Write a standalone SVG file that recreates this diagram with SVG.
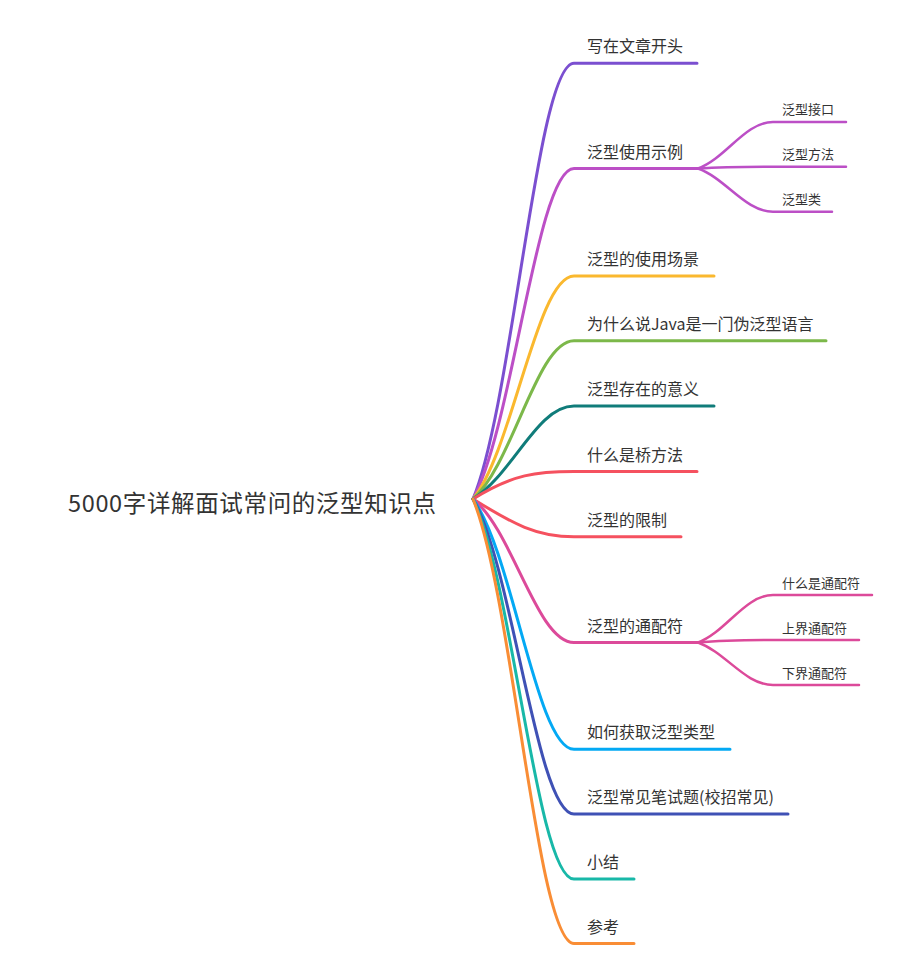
<svg xmlns="http://www.w3.org/2000/svg" width="900" height="975" viewBox="0 0 900 975">
<style>
.bg{fill:#ffffff}
.ln{fill:none;stroke-width:3;stroke-linecap:round}
.sl{fill:none;stroke-width:2.5;stroke-linecap:round}
text{font-family:"Noto Sans CJK SC","Noto Sans",sans-serif;fill:#333333}
.root{font-size:23.5px}
.main{font-size:16px}
.sub{font-size:13px}
</style>
<rect class="bg" x="0" y="0" width="900" height="975"/>
<g id="connectors">
<path class="ln" stroke="#7B4FD0" d="M473 499 C513 403.1 537 63.3 574 63.3 L697 63.3"/>
<path class="ln" stroke="#BC4FC6" d="M473 499 C513 426.3 537 168.5 574 168.5 L698 168.5"/>
<path class="ln" stroke="#FAB82E" d="M473 499 C513 449.9 537 276 574 276 L714 276"/>
<path class="ln" stroke="#7CB84A" d="M473 499 C513 464.2 537 340.8 574 340.8 L826 340.8"/>
<path class="ln" stroke="#107C7A" d="M473 499 C513 474 537 406 574 406 L714 406"/>
<path class="ln" stroke="#F5515F" d="M473 499 C513 474 537 471.5 574 471.5 L697 471.5"/>
<path class="ln" stroke="#F5515F" d="M473 499 C513 524 537 536.8 574 536.8 L681 536.8"/>
<path class="ln" stroke="#DC4A9A" d="M473 499 C513 530.6 537 642.5 574 642.5 L698 642.5"/>
<path class="ln" stroke="#03A9F4" d="M473 499 C513 554.1 537 749.3 574 749.3 L730 749.3"/>
<path class="ln" stroke="#3F51B5" d="M473 499 C513 568.3 537 814 574 814 L788 814"/>
<path class="ln" stroke="#18B8A8" d="M473 499 C513 582.6 537 879 574 879 L634 879"/>
<path class="ln" stroke="#F98D35" d="M473 499 C513 596.8 537 943.5 574 943.5 L634 943.5"/>
<path class="sl" stroke="#BC4FC6" d="M698 168.5 C726 158.3 745 122 773 122 L846 122"/>
<path class="sl" stroke="#BC4FC6" d="M698 168.5 C726 166.7 745 166.7 773 166.7 L846 166.7"/>
<path class="sl" stroke="#BC4FC6" d="M698 168.5 C726 178.5 745 211.7 773 211.7 L832 211.7"/>
<path class="sl" stroke="#DC4A9A" d="M698 642.5 C726 632.1 745 595 773 595 L872 595"/>
<path class="sl" stroke="#DC4A9A" d="M698 642.5 C726 640 745 640 773 640 L859 640"/>
<path class="sl" stroke="#DC4A9A" d="M698 642.5 C726 652.5 745 685 773 685 L859 685"/>
</g>
<g id="root"><text class="root" x="68" y="511.5" textLength="368" lengthAdjust="spacing">5000字详解面试常问的泛型知识点</text></g>
<g id="n1"><text class="main" x="587" y="52.3">写在文章开头</text></g>
<g id="n2"><text class="main" x="587" y="157.5">泛型使用示例</text></g>
<g id="n2a"><text class="sub" x="782" y="114">泛型接口</text></g>
<g id="n2b"><text class="sub" x="782" y="159">泛型方法</text></g>
<g id="n2c"><text class="sub" x="782" y="204">泛型类</text></g>
<g id="n3"><text class="main" x="587" y="265">泛型的使用场景</text></g>
<g id="n4"><text class="main" x="587" y="329.8">为什么说Java是一门伪泛型语言</text></g>
<g id="n5"><text class="main" x="587" y="395">泛型存在的意义</text></g>
<g id="n6"><text class="main" x="587" y="460.5">什么是桥方法</text></g>
<g id="n7"><text class="main" x="587" y="525.8">泛型的限制</text></g>
<g id="n8"><text class="main" x="587" y="631.5">泛型的通配符</text></g>
<g id="n8a"><text class="sub" x="782" y="587.5">什么是通配符</text></g>
<g id="n8b"><text class="sub" x="782" y="632.5">上界通配符</text></g>
<g id="n8c"><text class="sub" x="782" y="677.5">下界通配符</text></g>
<g id="n9"><text class="main" x="587" y="738.3">如何获取泛型类型</text></g>
<g id="n10"><text class="main" x="587" y="803">泛型常见笔试题(校招常见)</text></g>
<g id="n11"><text class="main" x="587" y="868">小结</text></g>
<g id="n12"><text class="main" x="587" y="932.5">参考</text></g>
</svg>
